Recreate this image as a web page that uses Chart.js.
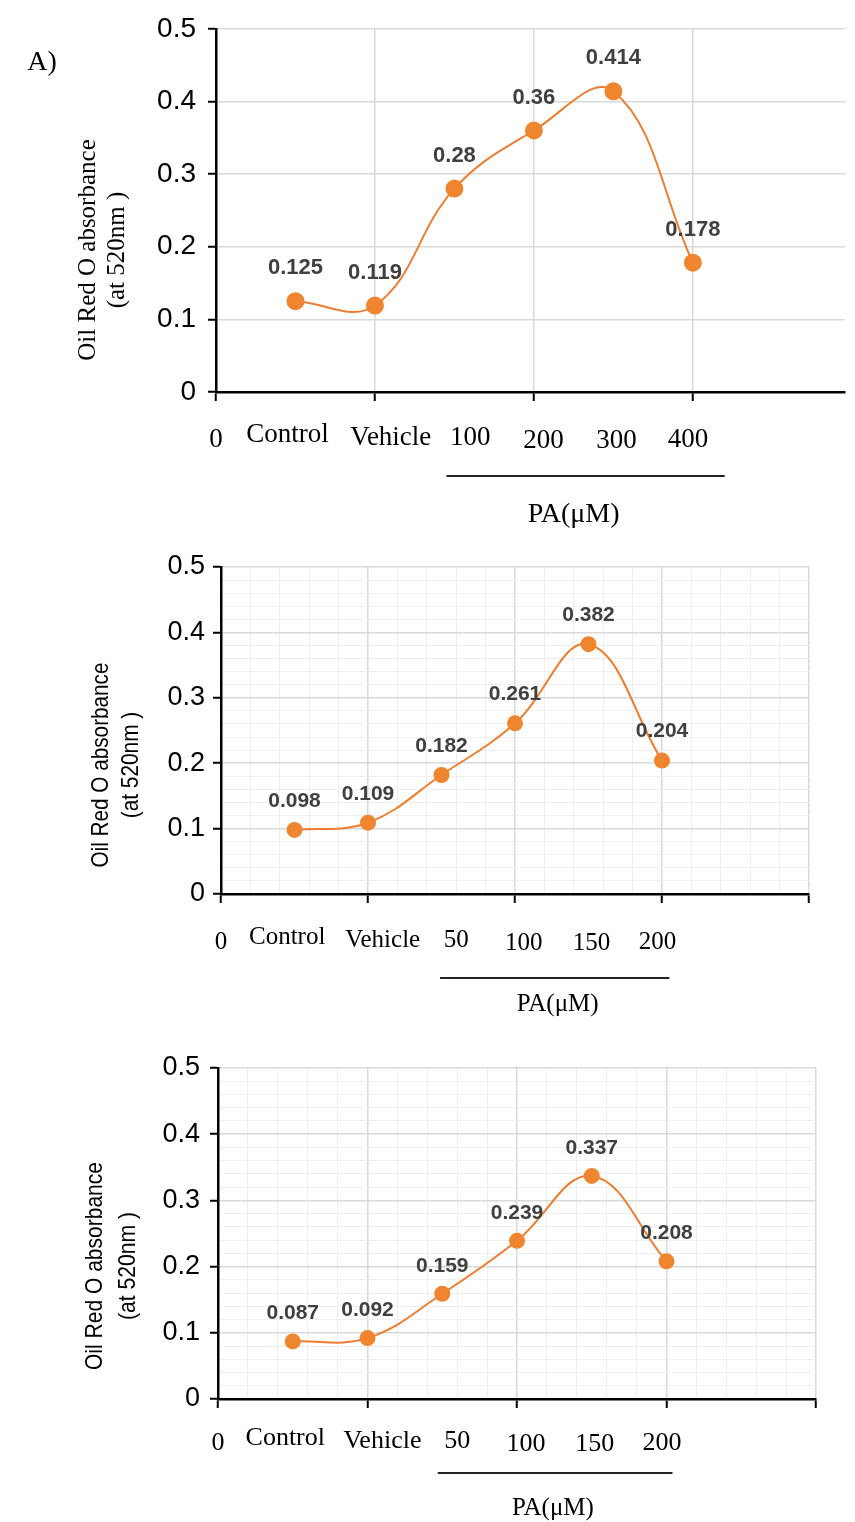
<!DOCTYPE html>
<html>
<head>
<meta charset="utf-8">
<script src="https://cdn.jsdelivr.net/npm/chart.js@4.4.0/dist/chart.umd.min.js"></script>
<style>
  html, body { margin: 0; padding: 0; background: #fff; }
  .wrap { position: absolute; left: 0; width: 855px; }
  #w1 { top: 0; }
  #w2 { top: 540px; }
  #w3 { top: 1030px; }
  canvas { display: block; }
</style>
</head>
<body>
<div class="wrap" id="w1"><canvas id="c1" width="855" height="540"></canvas></div>
<div class="wrap" id="w2"><canvas id="c2" width="855" height="490"></canvas></div>
<div class="wrap" id="w3"><canvas id="c3" width="855" height="492"></canvas></div>
<script>
// x position of each group on the 0..4 axis (Control, Vehicle, 4 PA doses)
const groupX = [0.5, 1, 1.5, 2, 2.5, 3];

const labelsA = ['0', 'Control', 'Vehicle', '100', '200', '300', '400'];
const valuesA = [0.125, 0.119, 0.28, 0.36, 0.414, 0.178];

const labelsB = ['0', 'Control', 'Vehicle', '50', '100', '150', '200'];
const valuesB = [0.098, 0.109, 0.182, 0.261, 0.382, 0.204];

const labelsC = ['0', 'Control', 'Vehicle', '50', '100', '150', '200'];
const valuesC = [0.087, 0.092, 0.159, 0.239, 0.337, 0.208];

const yTitle = ['Oil Red O absorbance', '(at 520nm )'];
const unitLabel = 'PA(\u03bcM)';

// where the hand placed text under the axis sits (axis units) + small vertical jitter
const labelAt = [0, 0.45, 1.1, 1.6, 2.06, 2.52, 2.97];
const labelDy = [2, -3, 0, 0, 3, 3, 2];

const SANS = '"Liberation Sans", Arial, sans-serif';
const SERIF = '"Liberation Serif", "Times New Roman", serif';
const ORANGE = '#ed7d31';

function makeChart(id, labels, values, s) {
  const xDiv = s.minor ? 5 : 1;
  const yDiv = s.minor ? 50 : 10;
  const isMajorX = v => Math.abs(v - Math.round(v)) < 1e-6;
  const isMajorY = v => Math.abs(v * 10 - Math.round(v * 10)) < 1e-6;

  const decor = {
    id: 'decor',
    afterDraw(chart) {
      const ctx = chart.ctx, x = chart.scales.x, y = chart.scales.y;
      const base = y.getPixelForValue(0);
      ctx.save();
      ctx.textAlign = 'center';
      ctx.textBaseline = 'middle';

      // value labels above points
      ctx.font = `bold ${s.valueFont}px ${SANS}`;
      ctx.fillStyle = '#404040';
      chart.getDatasetMeta(0).data.forEach((pt, i) => {
        ctx.fillText(String(values[i]), pt.x, pt.y - s.valueDy);
      });

      // category labels
      ctx.fillStyle = '#000';
      ctx.font = `${s.catFont}px ${SERIF}`;
      labels.forEach((t, i) => {
        ctx.fillText(t, x.getPixelForValue(labelAt[i]), base + s.catDy + labelDy[i]);
      });

      // bracket + unit
      ctx.strokeStyle = '#222';
      ctx.lineWidth = 2;
      ctx.beginPath();
      ctx.moveTo(x.getPixelForValue(s.bracket[0]), base + s.bracketDy);
      ctx.lineTo(x.getPixelForValue(s.bracket[1]), base + s.bracketDy);
      ctx.stroke();
      ctx.font = `${s.unitFont}px ${SERIF}`;
      ctx.fillText(unitLabel, x.getPixelForValue(s.unitX), base + s.unitDy);

      // y title, two rotated lines
      ctx.font = s.titleFont;
      yTitle.forEach((t, i) => {
        ctx.save();
        ctx.translate(s.titleX[i], s.titleY);
        ctx.rotate(-Math.PI / 2);
        ctx.fillText(t, 0, 0, i === 0 ? s.titleW : s.titleW * 0.52);
        ctx.restore();
      });

      if (s.panel) {
        ctx.font = `28px ${SERIF}`;
        ctx.fillText(s.panel, 42, 63);
      }
      ctx.restore();
    }
  };

  return new Chart(document.getElementById(id), {
    type: 'line',
    data: {
      datasets: [{
        data: groupX.map((gx, i) => ({ x: gx, y: values[i] })),
        borderColor: ORANGE,
        borderWidth: 2,
        backgroundColor: ORANGE,
        pointBackgroundColor: '#f0852f',
        pointBorderColor: '#f0852f',
        pointRadius: s.pointR,
        tension: 0.4,
        fill: false
      }]
    },
    options: {
      responsive: false,
      animation: false,
      layout: { padding: { left: 0, top: s.top, right: s.right, bottom: s.height - s.bottom - 10 } },
      plugins: { legend: { display: false }, tooltip: { enabled: false } },
      scales: {
        x: {
          type: 'linear',
          min: 0,
          max: s.xMax,
          afterBuildTicks: sc => {
            const t = [];
            for (let i = 0; i <= Math.floor(s.xMax * xDiv + 1e-6); i++) t.push({ value: i / xDiv });
            sc.ticks = t;
          },
          afterFit: sc => { sc.height = 10; },
          ticks: { display: false, autoSkip: false },
          grid: {
            color: c => isMajorX(c.tick.value) ? '#d9d9d9' : '#efefef',
            lineWidth: c => isMajorX(c.tick.value) ? 1.5 : 1,
            tickColor: c => isMajorX(c.tick.value) ? '#000' : 'rgba(0,0,0,0)',
            tickLength: 9,
            tickWidth: 2
          },
          border: { color: '#000', width: 2.5 }
        },
        y: {
          min: 0,
          max: 0.5,
          afterBuildTicks: sc => {
            const t = [];
            for (let i = 0; i <= yDiv / 2; i++) t.push({ value: i / yDiv });
            sc.ticks = t;
          },
          afterFit: sc => { sc.width = s.left; },
          ticks: {
            autoSkip: false,
            padding: s.tickPad,
            color: '#000',
            font: { family: SANS, size: s.tickFont },
            callback: v => isMajorY(v) ? String(Math.round(v * 10) / 10) : ''
          },
          grid: {
            color: c => isMajorY(c.tick.value) ? '#d9d9d9' : '#efefef',
            lineWidth: c => isMajorY(c.tick.value) ? 1.5 : 1,
            tickColor: c => isMajorY(c.tick.value) ? '#000' : 'rgba(0,0,0,0)',
            tickLength: 8,
            tickWidth: 2
          },
          border: { color: '#000', width: 2.5 }
        }
      }
    },
    plugins: [decor]
  });
}

makeChart('c1', labelsA, valuesA, {
  height: 540, top: 27, bottom: 392, left: 216, right: 0, xMax: 3.957, minor: false,
  tickFont: 28, tickPad: 12, valueFont: 22, valueDy: 33, catFont: 27, catDy: 46,
  bracket: [1.45, 3.2], bracketDy: 84, unitX: 2.25, unitDy: 123, unitFont: 28,
  titleFont: `25px ${SERIF}`, titleX: [88, 117], titleY: 250, titleW: 227,
  pointR: 8, panel: 'A)'
});

makeChart('c2', labelsB, valuesB, {
  height: 490, top: 27, bottom: 354, left: 221, right: 46, xMax: 4, minor: true,
  tickFont: 27, tickPad: 8, valueFont: 21, valueDy: 29, catFont: 25, catDy: 46,
  bracket: [1.49, 3.05], bracketDy: 84, unitX: 2.29, unitDy: 110, unitFont: 25,
  titleFont: `24px ${SANS}`, titleX: [101, 131], titleY: 225, titleW: 205,
  pointR: 7
});

makeChart('c3', labelsC, valuesC, {
  height: 492, top: 38, bottom: 369, left: 218, right: 39, xMax: 4, minor: true,
  tickFont: 27, tickPad: 10, valueFont: 21, valueDy: 28, catFont: 26, catDy: 42,
  bracket: [1.47, 3.04], bracketDy: 74, unitX: 2.24, unitDy: 109, unitFont: 25,
  titleFont: `24px ${SANS}`, titleX: [95, 128], titleY: 236, titleW: 208,
  pointR: 7
});
</script>
</body>
</html>
